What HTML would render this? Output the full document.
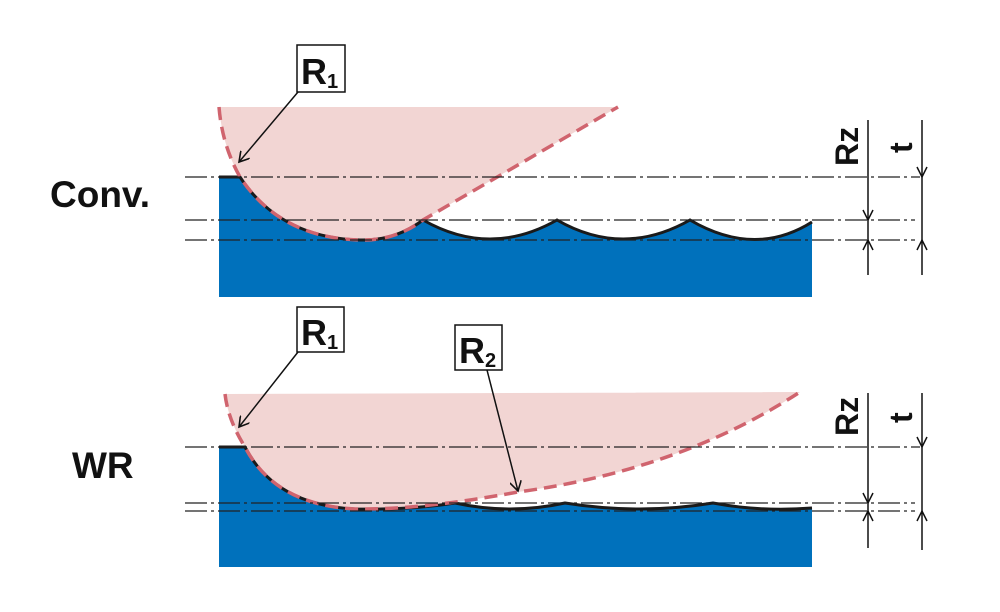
<!DOCTYPE html>
<html><head><meta charset="utf-8"><style>
html,body{margin:0;padding:0;background:#fff;}
svg{display:block;}
text{font-family:"Liberation Sans",sans-serif;font-weight:bold;fill:#111;}
</style></head><body>
<svg width="1000" height="612" viewBox="0 0 1000 612" xmlns="http://www.w3.org/2000/svg">
<defs>
<marker id="ar" markerWidth="12" markerHeight="12" refX="10" refY="6" orient="auto" markerUnits="userSpaceOnUse">
<path d="M0,0 L10,6 L0,12" fill="none" stroke="#111" stroke-width="1.6"/>
</marker>
</defs>

<!-- ===== TOP ===== -->
<path d="M219,107 L618,107 L423,220 Q390,241 360,240 Q280,238 240,177 Q222,145 219,107 Z" fill="#f2d5d3"/>
<path d="M219,177 L240,177 Q280,238 360,240 Q395,241 423,220 Q490,258 557,220 Q623,258 690,220 Q755,258 812,222 L812,297 L219,297 Z" fill="#0071bc"/>
<path d="M219,177 L240,177 Q280,238 360,240 Q395,241 423,220 Q490,258 557,220 Q623,258 690,220 Q755,258 812,222" fill="none" stroke="#1a1a1a" stroke-width="3"/>
<path d="M219,107 Q222,145 240,177 Q280,238 360,240 Q395,241 423,220 L618,107" fill="none" stroke="#d0646e" stroke-width="3.5" stroke-dasharray="13,7"/>
<g stroke="#222" stroke-width="1.2" stroke-dasharray="22,4,3,4">
<line x1="185" y1="177" x2="920" y2="177"/>
<line x1="185" y1="220" x2="915" y2="220"/>
<line x1="185" y1="240" x2="915" y2="240"/>
</g>
<rect x="297" y="45" width="48" height="47" fill="#fff" stroke="#111" stroke-width="1.5"/>
<text x="301" y="84" font-size="36">R<tspan font-size="20" dy="4">1</tspan></text>
<line x1="298" y1="92" x2="239" y2="162" stroke="#111" stroke-width="1.5" marker-end="url(#ar)"/>
<text x="50" y="207" font-size="37">Conv.</text>
<g stroke="#111" stroke-width="1.5" fill="none">
<line x1="868" y1="120" x2="868" y2="275"/>
<line x1="922" y1="120" x2="922" y2="275"/>
<path d="M863,210 L868,220 L873,210"/><path d="M863,250 L868,240 L873,250"/>
<path d="M917,167 L922,177 L927,167"/><path d="M917,250 L922,240 L927,250"/>
</g>
<text transform="translate(858,166) rotate(-90)" font-size="32">Rz</text>
<text transform="translate(912,153) rotate(-90)" font-size="32">t</text>

<!-- ===== BOTTOM ===== -->
<path d="M225,394 L800,392 Q680,470 518,492 Q420,510 355,509 Q275,505 245,447 Q228,420 225,394 Z" fill="#f2d5d3"/>
<path d="M219,447 L245,447 Q275,505 355,509 Q410,510 455,503 Q510,515 565,503 Q640,515 713,503 Q760,512 812,508 L812,567 L219,567 Z" fill="#0071bc"/>
<path d="M219,447 L245,447 Q275,505 355,509 Q410,510 455,503 Q510,515 565,503 Q640,515 713,503 Q760,512 812,508" fill="none" stroke="#1a1a1a" stroke-width="3"/>
<path d="M225,394 Q228,420 245,447 Q275,505 355,509 Q420,510 518,492 Q680,470 800,392" fill="none" stroke="#d0646e" stroke-width="3.5" stroke-dasharray="13,7"/>
<g stroke="#222" stroke-width="1.2" stroke-dasharray="22,4,3,4">
<line x1="185" y1="447" x2="920" y2="447"/>
<line x1="185" y1="503" x2="915" y2="503"/>
<line x1="185" y1="511" x2="915" y2="511"/>
</g>
<rect x="297" y="307" width="47" height="45" fill="#fff" stroke="#111" stroke-width="1.5"/>
<text x="301" y="345" font-size="36">R<tspan font-size="20" dy="4">1</tspan></text>
<line x1="298" y1="352" x2="239" y2="427" stroke="#111" stroke-width="1.5" marker-end="url(#ar)"/>
<rect x="455" y="325" width="47" height="45" fill="#fff" stroke="#111" stroke-width="1.5"/>
<text x="459" y="363" font-size="36">R<tspan font-size="20" dy="4">2</tspan></text>
<line x1="487" y1="370" x2="518" y2="491" stroke="#111" stroke-width="1.5" marker-end="url(#ar)"/>
<text x="72" y="478" font-size="37">WR</text>
<g stroke="#111" stroke-width="1.5" fill="none">
<line x1="868" y1="393" x2="868" y2="548"/>
<line x1="922" y1="393" x2="922" y2="550"/>
<path d="M863,493 L868,503 L873,493"/><path d="M863,521 L868,511 L873,521"/>
<path d="M917,437 L922,447 L927,437"/><path d="M917,521 L922,511 L927,521"/>
</g>
<text transform="translate(858,436) rotate(-90)" font-size="32">Rz</text>
<text transform="translate(912,423) rotate(-90)" font-size="32">t</text>
</svg>
</body></html>
